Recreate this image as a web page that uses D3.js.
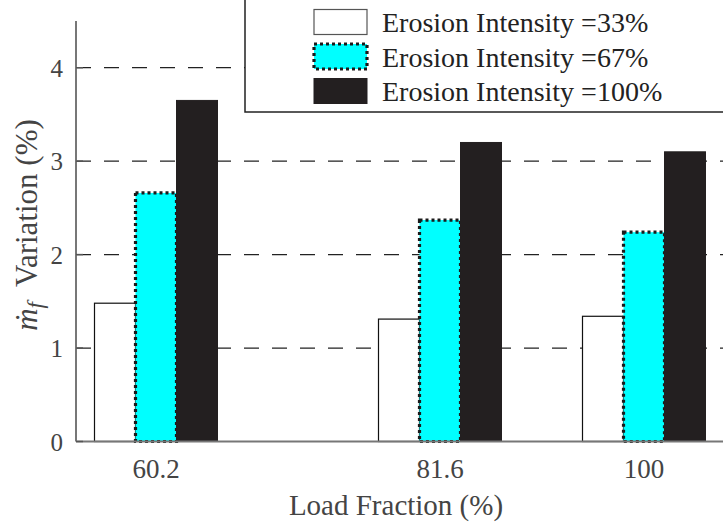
<!DOCTYPE html>
<html><head>
<meta charset="utf-8">
<script src="https://d3js.org/d3.v7.min.js"></script>
<style>
  body { margin: 0; background: #fff; }
  svg { font-family: "Liberation Serif", "Times New Roman", serif; }
  .grid { stroke: #222; stroke-width: 1.3px; stroke-dasharray: 15 13; }
  .axisline { stroke: #777; stroke-width: 2px; }
</style>
</head>
<body>
<svg id="chart" width="723" height="524"></svg>
<script>
// data
const loads = [60.2, 81.6, 100];
const loadLabels = ["60.2", "81.6", "100"];
const series = ["Erosion Intensity =33%", "Erosion Intensity =67%", "Erosion Intensity =100%"];
const e33 = [1.48, 1.31, 1.34];
const e67 = [2.66, 2.37, 2.24];
const e100 = [3.65, 3.20, 3.10];
const yTicks = [0, 1, 2, 3, 4];

const values = [e33, e67, e100];

const svg = d3.select("#chart");
const mLeft = 76, mBottom = 441.5, mTop = 21, mRight = 764;

// group centres are not evenly spaced in the original, so piecewise scale
var x = d3.scaleLinear().domain(loads).range([156, 440, 644]);
var y = d3.scaleLinear().domain([0, 4.5]).range([mBottom, mTop]);
var barW = 41;
var offset = d3.scaleLinear().domain([0, 2]).range([-barW, barW]);

// dashed grid
svg.selectAll("line.grid").data(yTicks.filter(d => d > 0))
  .enter().append("line")
  .attr("class", "grid")
  .attr("x1", mLeft).attr("x2", mRight)
  .attr("y1", d => y(d)).attr("y2", d => y(d));

// bars
var styles = [
  {fill: "#fff", stroke: "#111", width: 1.2, dash: null},
  {fill: "#00ffff", stroke: "#1a1a1a", width: 3.2, dash: "3 3"},
  {fill: "#231f20", stroke: "#231f20", width: 1, dash: null}
];

values.forEach((vals, s) => {
  svg.append("g").selectAll("rect").data(vals)
    .enter().append("rect")
    .attr("x", (d, i) => x(loads[i]) + offset(s) - barW / 2)
    .attr("width", barW)
    .attr("y", d => y(d))
    .attr("height", d => y(0) - y(d))
    .attr("fill", styles[s].fill)
    .attr("stroke", styles[s].stroke)
    .attr("stroke-width", styles[s].width)
    .attr("stroke-dasharray", styles[s].dash);
});

// axes (only left and bottom visible)
svg.append("line").attr("class", "axisline")
  .attr("x1", mLeft).attr("x2", mLeft).attr("y1", mTop).attr("y2", mBottom);
svg.append("line").attr("class", "axisline")
  .attr("x1", mLeft).attr("x2", mRight).attr("y1", mBottom).attr("y2", mBottom);

svg.selectAll("line.ytick").data(yTicks)
  .enter().append("line")
  .attr("stroke", "#555").attr("stroke-width", 1.5)
  .attr("x1", mLeft).attr("x2", mLeft + 7)
  .attr("y1", d => y(d)).attr("y2", d => y(d));

svg.selectAll("text.ylab").data(yTicks)
  .enter().append("text")
  .attr("x", mLeft - 13).attr("y", d => y(d) + 9)
  .attr("text-anchor", "end")
  .attr("font-size", 25).attr("fill", "#444")
  .text(d => d);

svg.selectAll("text.xlab").data(loadLabels)
  .enter().append("text")
  .attr("x", (d, i) => x(loads[i]))
  .attr("y", 478)
  .attr("text-anchor", "middle")
  .attr("font-size", 27).attr("fill", "#444")
  .text(d => d);

svg.append("text")
  .attr("x", 396).attr("y", 515)
  .attr("text-anchor", "middle")
  .attr("font-size", 29).attr("fill", "#444")
  .text("Load Fraction (%)");

var ylab = svg.append("text")
  .attr("transform", `translate(37,225) rotate(-90)`)
  .attr("text-anchor", "middle")
  .attr("font-size", 31).attr("fill", "#444");
ylab.append("tspan").attr("font-style", "italic").text("\u1E41");
ylab.append("tspan").attr("font-style", "italic").attr("font-size", 23).attr("dy", 6).text("f");
ylab.append("tspan").attr("dy", -6).text("\u00A0 Variation (%)");

// legend (white box, top and right edges run off the picture)
var lg = svg.append("g");
lg.append("rect")
  .attr("x", 245).attr("y", -5).attr("width", 500).attr("height", 117)
  .attr("fill", "#fff").attr("stroke", "#222").attr("stroke-width", 1.5);

var rowY = d3.scaleLinear().domain([0, 2]).range([22, 91]);
series.forEach((name, s) => {
  lg.append("rect")
    .attr("x", 314).attr("y", rowY(s) - 12.5)
    .attr("width", 53).attr("height", 25)
    .attr("fill", styles[s].fill)
    .attr("stroke", s === 0 ? "#555" : styles[s].stroke)
    .attr("stroke-width", styles[s].width)
    .attr("stroke-dasharray", styles[s].dash);
  lg.append("text")
    .attr("x", 382).attr("y", rowY(s) + 10)
    .attr("font-size", 28).attr("fill", "#222")
    .text(name);
});
</script>
</body>
</html>
